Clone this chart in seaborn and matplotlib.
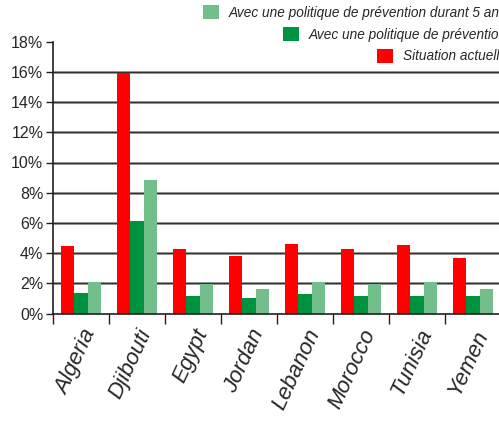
import numpy as np
import pandas as pd
import matplotlib
matplotlib.use('Agg')
import matplotlib.pyplot as plt
from matplotlib.ticker import FuncFormatter, FixedLocator
from matplotlib.patches import Patch
import seaborn as sns

# données (en %)
pays = ['Algeria', 'Djibouti', 'Egypt', 'Jordan', 'Lebanon', 'Morocco', 'Tunisia', 'Yemen']
series = ['Situation actuelle',
          'Avec une politique de prévention',
          'Avec une politique de prévention durant 5 ans']
situation_actuelle = [4.47, 15.95, 4.29, 3.83, 4.62, 4.29, 4.55, 3.65]
avec_prevention = [1.34, 6.10, 1.18, 1.03, 1.29, 1.18, 1.18, 1.18]
prevention_5_ans = [2.09, 8.84, 1.95, 1.62, 2.09, 1.95, 2.09, 1.62]
couleurs = ['#FF0000', '#00923F', '#72BF8C']

df = pd.DataFrame({
    'pays': pays * 3,
    'serie': [series[0]] * 8 + [series[1]] * 8 + [series[2]] * 8,
    'valeur': situation_actuelle + avec_prevention + prevention_5_ans,
})

sns.set_style('white')
plt.rcParams['font.family'] = ['Liberation Sans', 'DejaVu Sans']

fig = plt.figure(figsize=(4.99, 4.21), dpi=100)
ax = fig.add_axes([53 / 499, 107.5 / 421, 448 / 499, 271.8 / 421])

sns.barplot(data=df, x='pays', y='valeur', hue='serie', hue_order=series,
            palette=couleurs, saturation=1, width=0.7, linewidth=0,
            legend=False, ax=ax)

ax.set_ylim(0, 18)
ax.set_xlim(-0.5, 7.5)
ax.set_yticks(np.arange(0, 19, 2))
ax.yaxis.set_major_formatter(FuncFormatter(lambda v, p: f'{v:.0f}%'))
for y in np.arange(2, 17, 2):
    ax.axhline(y, color='#b0b0b0', lw=2.2, zorder=0.5)
    ax.axhline(y, color='#303030', lw=1.0, zorder=0.6)

ax.set_xlabel('')
ax.set_ylabel('')
for s in ['top', 'right']:
    ax.spines[s].set_visible(False)
for s in ['left', 'bottom']:
    ax.spines[s].set_color('#202020')
    ax.spines[s].set_linewidth(1.2)

ax.tick_params(axis='y', which='major', direction='out', length=5, width=1,
               color='#202020', labelsize=11.5, pad=2, left=True)
ax.xaxis.set_minor_locator(FixedLocator(np.arange(-0.5, 8, 1)))
ax.tick_params(axis='x', which='minor', direction='out', length=7, width=1,
               color='#202020', bottom=True)
ax.tick_params(axis='x', which='major', length=0, pad=9)
for lab in ax.get_xticklabels():
    lab.set_rotation(65)
    lab.set_ha('right')
    lab.set_rotation_mode('anchor')
    lab.set_fontstyle('italic')
    lab.set_fontsize(16)

# légende : une entrée par ligne, alignée à droite
for i, (nom, c) in enumerate(zip(series[::-1], couleurs[::-1])):
    fig.legend(handles=[Patch(facecolor=c, edgecolor='none')], labels=[nom],
               loc='upper right', bbox_to_anchor=(1.04, 1.017 - i * 0.052),
               frameon=False, handlelength=1.2, handleheight=1.2,
               handletextpad=0.7, prop={'style': 'italic', 'size': 9.8})

fig.savefig('out.png', dpi=100)
